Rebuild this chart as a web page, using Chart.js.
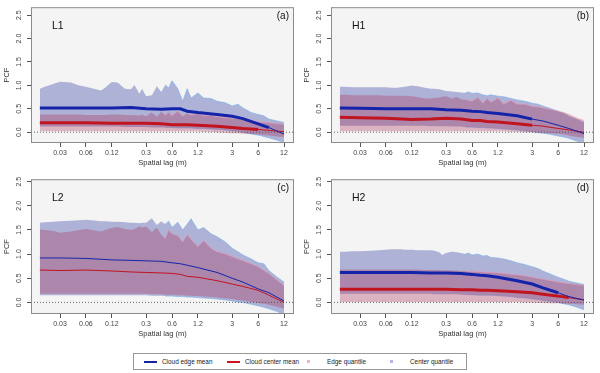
<!DOCTYPE html>
<html>
<head>
<meta charset="utf-8">
<script src="https://cdn.jsdelivr.net/npm/chart.js@4.4.0/dist/chart.umd.min.js"></script>
<style>
  body { margin:0; background:#fff; width:600px; height:373px; position:relative; overflow:hidden;
         font-family:"Liberation Sans", Arial, sans-serif; }
  .panel { position:absolute; }
  #legend { position:absolute; left:133px; top:353px; width:332px; height:15px; border:1px solid #999; background:#fff; }
  #legend span { position:absolute; font-size:6.4px; color:#222; top:4px; white-space:nowrap; }
  #legend i { position:absolute; display:block; }
</style>
</head>
<body>
<div class="panel" style="left:0;top:0"><canvas id="pa" width="300" height="170"></canvas></div>
<div class="panel" style="left:300px;top:0"><canvas id="pb" width="300" height="170"></canvas></div>
<div class="panel" style="left:0;top:172px"><canvas id="pc" width="300" height="169"></canvas></div>
<div class="panel" style="left:300px;top:172px"><canvas id="pd" width="300" height="169"></canvas></div>
<div id="legend">
  <i style="left:10px;top:6.5px;width:13px;height:2px;background:#1424aa"></i><span style="left:28px">Cloud edge mean</span>
  <i style="left:93px;top:6.5px;width:13px;height:2px;background:#d0141e"></i><span style="left:111px">Cloud center mean</span>
  <i style="left:173px;top:6px;width:3px;height:3px;background:#f0b4c0"></i><span style="left:193px">Edge quantile</span>
  <i style="left:256px;top:6px;width:3px;height:3px;background:#b4b6e6"></i><span style="left:276px">Center quantile</span>
</div>
<script>
const xTicks = [0.03, 0.06, 0.12, 0.3, 0.6, 1.2, 3, 6, 12];
const yTicks = [0, 0.5, 1, 1.5, 2, 2.5];

// lags used for quantile bands
const bandLags = [0.0175, 0.02, 0.025, 0.03, 0.04, 0.05, 0.06, 0.07, 0.08, 0.09, 0.1, 0.12, 0.14, 0.17, 0.2, 0.22,
  0.25, 0.27, 0.3, 0.35, 0.4, 0.45, 0.5, 0.55, 0.6, 0.7, 0.8, 0.9, 1.0, 1.2, 1.4, 1.7, 2, 2.5, 3, 3.5, 4, 5, 6, 7, 8, 10, 12];
// lags used for mean curves
const meanLags = [0.0175, 0.03, 0.06, 0.12, 0.2, 0.3, 0.45, 0.6, 0.75, 0.9, 1.2, 2, 3, 4, 6, 8, 12];

// L1
const edgeMeanL1 = [0.52, 0.52, 0.52, 0.52, 0.53, 0.5, 0.49, 0.5, 0.5, 0.45, 0.42, 0.38, 0.34, 0.29, 0.18, 0.1, -0.04];
const centerMeanL1 = [0.2, 0.2, 0.2, 0.19, 0.19, 0.19, 0.18, 0.16, 0.16, 0.16, 0.15, 0.13, 0.1, 0.08, 0.06, 0.04, 0.01];
const centerHiL1 = [0.93, 0.97, 1.03, 1.08, 1.06, 1.0, 0.97, 0.94, 0.91, 0.89, 0.95, 1.07, 1.06, 0.93, 0.92, 1.01, 0.82, 0.93,
  0.77, 0.79, 0.98, 0.86, 1.01, 0.95, 1.1, 0.93, 0.66, 0.93, 0.73, 0.84, 0.73, 0.72, 0.66, 0.63, 0.56, 0.6, 0.52, 0.42, 0.38,
  0.35, 0.28, 0.24, 0.21];
const centerLoL1 = [0.12, 0.12, 0.12, 0.12, 0.12, 0.12, 0.12, 0.12, 0.12, 0.12, 0.12, 0.12, 0.12, 0.11, 0.11, 0.11, 0.11, 0.11,
  0.11, 0.1, 0.1, 0.1, 0.1, 0.1, 0.1, 0.09, 0.09, 0.09, 0.09, 0.08, 0.08, 0.07, 0.06, 0.05, 0.03, 0.02, 0.0, -0.04, -0.06,
  -0.09, -0.12, -0.17, -0.22];
const edgeHiL1 = [0.38, 0.38, 0.38, 0.38, 0.38, 0.38, 0.37, 0.37, 0.37, 0.37, 0.37, 0.38, 0.38, 0.37, 0.36, 0.37, 0.35, 0.38,
  0.34, 0.42, 0.33, 0.44, 0.36, 0.43, 0.35, 0.45, 0.34, 0.41, 0.36, 0.4, 0.35, 0.36, 0.33, 0.31, 0.3, 0.29, 0.27, 0.25, 0.22,
  0.21, 0.2, 0.18, 0.17];
const edgeLoL1 = [0.02, 0.02, 0.02, 0.02, 0.02, 0.02, 0.02, 0.02, 0.02, 0.02, 0.02, 0.02, 0.02, 0.02, 0.02, 0.02, 0.02, 0.02,
  0.02, 0.02, 0.02, 0.02, 0.02, 0.02, 0.02, 0.02, 0.02, 0.02, 0.02, 0.02, 0.01, 0.01, 0.0, -0.01, -0.02, -0.02, -0.03, -0.04,
  -0.05, -0.06, -0.07, -0.09, -0.1];

// H1
const edgeMeanH1 = [0.52, 0.51, 0.5, 0.5, 0.5, 0.48, 0.47, 0.45, 0.44, 0.42, 0.4, 0.35, 0.28, 0.24, 0.15, 0.08, -0.03];
const centerMeanH1 = [0.32, 0.31, 0.3, 0.27, 0.28, 0.3, 0.28, 0.25, 0.25, 0.23, 0.22, 0.18, 0.15, 0.13, 0.08, 0.05, 0.0];
const centerHiH1 = [0.97, 0.97, 0.96, 0.96, 0.96, 0.96, 0.96, 0.95, 0.95, 0.96, 0.97, 1.0, 0.98, 0.95, 0.93, 0.93, 0.92, 0.9,
  0.88, 0.87, 0.86, 0.85, 0.84, 0.86, 0.83, 0.84, 0.8, 0.78, 0.8, 0.77, 0.76, 0.72, 0.69, 0.66, 0.62, 0.6, 0.56, 0.5, 0.45,
  0.4, 0.34, 0.27, 0.2];
const centerLoH1 = [0.14, 0.14, 0.14, 0.14, 0.14, 0.14, 0.14, 0.14, 0.14, 0.14, 0.14, 0.14, 0.14, 0.14, 0.13, 0.13, 0.13, 0.13,
  0.13, 0.12, 0.12, 0.12, 0.11, 0.11, 0.11, 0.1, 0.1, 0.09, 0.09, 0.08, 0.07, 0.06, 0.05, 0.03, 0.01, -0.01, -0.02, -0.05,
  -0.08, -0.1, -0.13, -0.19, -0.25];
const edgeHiH1 = [0.8, 0.8, 0.79, 0.79, 0.79, 0.79, 0.78, 0.78, 0.78, 0.78, 0.78, 0.77, 0.75, 0.72, 0.72, 0.73, 0.74, 0.76,
  0.77, 0.72, 0.75, 0.7, 0.7, 0.68, 0.66, 0.74, 0.62, 0.72, 0.64, 0.73, 0.6, 0.68, 0.6, 0.6, 0.55, 0.54, 0.52, 0.48, 0.45,
  0.42, 0.38, 0.3, 0.25];
const edgeLoH1 = [0.02, 0.02, 0.02, 0.02, 0.02, 0.02, 0.02, 0.02, 0.02, 0.02, 0.02, 0.02, 0.02, 0.02, 0.02, 0.02, 0.02, 0.02,
  0.02, 0.02, 0.02, 0.02, 0.02, 0.02, 0.02, 0.02, 0.02, 0.02, 0.02, 0.02, 0.02, 0.01, 0.01, 0.0, 0.0, -0.01, -0.01, -0.02,
  -0.03, -0.05, -0.07, -0.1, -0.12];

// L2
const edgeMeanL2 = [0.92, 0.92, 0.91, 0.88, 0.87, 0.86, 0.85, 0.82, 0.8, 0.77, 0.72, 0.62, 0.5, 0.42, 0.28, 0.2, 0.03];
const centerMeanL2 = [0.67, 0.66, 0.67, 0.65, 0.63, 0.62, 0.61, 0.6, 0.58, 0.54, 0.52, 0.45, 0.38, 0.33, 0.25, 0.15, 0.0];
const centerHiL2 = [1.65, 1.66, 1.67, 1.68, 1.69, 1.7, 1.71, 1.7, 1.69, 1.68, 1.68, 1.67, 1.67, 1.66, 1.65, 1.65, 1.64, 1.65,
  1.65, 1.74, 1.6, 1.68, 1.62, 1.68, 1.55, 1.66, 1.5, 1.62, 1.73, 1.5, 1.55, 1.42, 1.36, 1.25, 1.12, 1.05, 0.98, 0.9, 0.82,
  0.8, 0.66, 0.52, 0.42];
const centerLoL2 = [0.15, 0.15, 0.15, 0.15, 0.15, 0.15, 0.15, 0.15, 0.15, 0.15, 0.15, 0.15, 0.15, 0.15, 0.15, 0.15, 0.15, 0.15,
  0.15, 0.14, 0.14, 0.14, 0.13, 0.13, 0.13, 0.12, 0.12, 0.11, 0.11, 0.1, 0.09, 0.08, 0.07, 0.05, 0.03, 0.01, 0.0, -0.04,
  -0.07, -0.1, -0.13, -0.19, -0.25];
const edgeHiL2 = [1.51, 1.5, 1.48, 1.44, 1.47, 1.5, 1.52, 1.5, 1.48, 1.47, 1.5, 1.54, 1.56, 1.52, 1.5, 1.52, 1.57, 1.55, 1.57,
  1.45, 1.55, 1.4, 1.32, 1.5, 1.42, 1.38, 1.25, 1.4, 1.3, 1.15, 1.28, 1.12, 1.05, 1.0, 0.95, 0.9, 0.86, 0.8, 0.74, 0.66, 0.6,
  0.46, 0.35];
const edgeLoL2 = [0.18, 0.18, 0.18, 0.18, 0.18, 0.18, 0.18, 0.18, 0.18, 0.18, 0.18, 0.18, 0.18, 0.18, 0.18, 0.18, 0.18, 0.18,
  0.18, 0.17, 0.17, 0.17, 0.16, 0.16, 0.16, 0.15, 0.15, 0.14, 0.14, 0.13, 0.12, 0.11, 0.1, 0.08, 0.07, 0.05, 0.04, 0.01,
  -0.01, -0.03, -0.05, -0.09, -0.13];

// H2
const edgeMeanH2 = [0.62, 0.62, 0.62, 0.62, 0.61, 0.61, 0.6, 0.58, 0.56, 0.55, 0.52, 0.45, 0.38, 0.3, 0.2, 0.12, 0.05];
const centerMeanH2 = [0.27, 0.27, 0.27, 0.27, 0.27, 0.27, 0.26, 0.26, 0.25, 0.25, 0.24, 0.22, 0.2, 0.17, 0.13, 0.1, 0.05];
const centerHiH2 = [1.05, 1.05, 1.06, 1.06, 1.07, 1.08, 1.09, 1.1, 1.1, 1.1, 1.09, 1.09, 1.08, 1.08, 1.08, 1.07, 1.04, 0.98,
  1.02, 1.05, 1.04, 1.02, 1.0, 1.02, 0.98, 1.0, 0.96, 0.97, 0.93, 0.92, 0.9, 0.86, 0.82, 0.78, 0.74, 0.7, 0.65, 0.58, 0.52,
  0.48, 0.44, 0.4, 0.37];
const centerLoH2 = [0.18, 0.18, 0.18, 0.18, 0.18, 0.18, 0.18, 0.18, 0.18, 0.18, 0.18, 0.18, 0.18, 0.18, 0.18, 0.17, 0.17, 0.17,
  0.17, 0.17, 0.17, 0.16, 0.16, 0.16, 0.16, 0.15, 0.15, 0.15, 0.15, 0.14, 0.13, 0.12, 0.1, 0.09, 0.07, 0.06, 0.04, 0.02, 0.0,
  -0.03, -0.05, -0.1, -0.15];
const edgeHiH2 = [0.68, 0.68, 0.68, 0.68, 0.68, 0.68, 0.68, 0.68, 0.68, 0.68, 0.68, 0.68, 0.68, 0.67, 0.67, 0.67, 0.67, 0.66,
  0.67, 0.66, 0.66, 0.65, 0.65, 0.64, 0.64, 0.63, 0.63, 0.62, 0.62, 0.61, 0.6, 0.58, 0.57, 0.55, 0.52, 0.5, 0.48, 0.45, 0.42,
  0.4, 0.39, 0.37, 0.35];
const edgeLoH2 = [0.01, 0.01, 0.01, 0.01, 0.01, 0.01, 0.01, 0.01, 0.01, 0.01, 0.01, 0.01, 0.01, 0.01, 0.01, 0.01, 0.01, 0.01,
  0.01, 0.01, 0.01, 0.01, 0.01, 0.01, 0.01, 0.01, 0.01, 0.01, 0.01, 0.01, 0.01, 0.01, 0.01, 0.0, 0.0, -0.01, -0.01, -0.02,
  -0.02, -0.03, -0.03, -0.04, -0.05];

const BLUE = '#1424aa', RED = '#c0141f';
const LAVENDER = 'rgba(60,70,165,0.38)', PINK = 'rgba(170,45,85,0.32)';
const LAV_EDGE = 'rgba(110,175,235,0.8)', PINK_EDGE = 'rgba(245,150,175,0.75)';
const FONT = '"Liberation Sans", Arial, sans-serif';

function pts(xs, ys) { return xs.map((x, i) => ({x: x, y: ys[i]})) }

const decor = {
  id: 'decor',
  beforeDraw(chart) {
    const a = chart.chartArea, ctx = chart.ctx;
    ctx.save();
    ctx.fillStyle = '#f4f4f4';
    ctx.fillRect(a.left, a.top, a.right - a.left, a.bottom - a.top);
    ctx.restore();
  },
  afterDatasetDraw(chart, args) {
    if (args.index !== 3) return;
    // dotted zero reference line, above the bands and under the means
    const a = chart.chartArea, ctx = chart.ctx;
    const y0 = chart.scales.y.getPixelForValue(0);
    ctx.save();
    ctx.strokeStyle = '#444';
    ctx.lineWidth = 0.8;
    ctx.setLineDash([1, 2]);
    ctx.beginPath();
    ctx.moveTo(a.left, y0); ctx.lineTo(a.right, y0);
    ctx.stroke();
    ctx.restore();
  },
  afterDraw(chart) {
    const a = chart.chartArea, ctx = chart.ctx, o = chart.options.plugins.decor;
    ctx.save();
    ctx.strokeStyle = '#8c8c8c';
    ctx.lineWidth = 1;
    ctx.strokeRect(a.left + 0.5, a.top + 0.5, a.right - a.left - 1, a.bottom - a.top - 1);
    // rotated y tick labels (R style)
    ctx.fillStyle = '#444';
    ctx.font = '7px ' + FONT;
    ctx.textAlign = 'center';
    ctx.textBaseline = 'middle';
    yTicks.forEach(v => {
      const y = chart.scales.y.getPixelForValue(v);
      ctx.save();
      ctx.translate(a.left - 12, y);
      ctx.rotate(-Math.PI / 2);
      ctx.fillText(v.toFixed(1), 0, 0);
      ctx.restore();
    });
    ctx.fillStyle = '#111';
    ctx.font = '10.5px ' + FONT;
    ctx.textAlign = 'left';
    ctx.fillText(o.name, a.left + 21, a.top + 19);
    ctx.font = '10px ' + FONT;
    ctx.textAlign = 'right';
    ctx.fillText(o.tag, a.right - 5, a.top + 9.5);
    ctx.restore();
  }
};

function makePanel(id, name, tag, yMin, yMax, edgeMean, centerMean, centerHi, centerLo, edgeHi, edgeLo, thickBlue, thickRed) {
  const lw = lim => (ctx => (ctx.p1.parsed.x <= lim ? 3 : 1));
  const band = (data, color, fill, order) => ({
    data: pts(bandLags, data), borderWidth: 0, pointRadius: 0, backgroundColor: color,
    fill: fill, order: order, tension: 0
  });
  // noisy outer edge of the bands at larger lags
  const fringe = (data, color, order) => ({
    data: pts(bandLags, data).filter(p => p.x >= 0.5), borderWidth: 0.7, borderColor: color,
    pointRadius: 0, fill: false, order: order
  });
  new Chart(document.getElementById(id), {
    type: 'line',
    data: {
      datasets: [
        band(centerLo, LAVENDER, false, 5),
        band(centerHi, LAVENDER, 0, 5),
        band(edgeLo, PINK, false, 3),
        band(edgeHi, PINK, 2, 3),
        { data: pts(meanLags, centerMean), borderColor: RED, borderWidth: 1, pointRadius: 0, fill: false, order: 2,
          segment: { borderWidth: lw(thickRed) } },
        { data: pts(meanLags, edgeMean), borderColor: BLUE, borderWidth: 1, pointRadius: 0, fill: false, order: 1,
          segment: { borderWidth: lw(thickBlue) } },
        fringe(centerHi, LAV_EDGE, 4),
        fringe(centerLo, LAV_EDGE, 4),
        fringe(edgeHi, PINK_EDGE, 2.5)
      ]
    },
    options: {
      responsive: false,
      animation: false,
      layout: { padding: { top: 5, right: 6, left: 0, bottom: 0 } },
      plugins: { legend: { display: false }, tooltip: { enabled: false }, decor: { name: name, tag: tag } },
      scales: {
        x: {
          type: 'logarithmic', min: 0.01381, max: 15.68,
          afterBuildTicks: s => { s.ticks = xTicks.map(v => ({value: v})) },
          afterFit: s => { s.height = 27 },
          ticks: { callback: v => String(v), color: '#444', font: { size: 7, family: FONT }, padding: 2,
                   maxRotation: 0, autoSkip: false },
          grid: { drawOnChartArea: false, drawTicks: true, tickLength: 4, color: '#555' },
          border: { display: false },
          title: { display: true, text: 'Spatial lag (m)', color: '#333', font: { size: 7.5, family: FONT },
                   padding: { top: 2, bottom: 2.5 } }
        },
        y: {
          min: yMin, max: yMax,
          afterBuildTicks: s => { s.ticks = yTicks.map(v => ({value: v})) },
          afterFit: s => { s.width = 31 },
          ticks: { color: 'rgba(0,0,0,0)', font: { size: 7, family: FONT } },
          grid: { drawOnChartArea: false, drawTicks: true, tickLength: 4, color: '#555' },
          border: { display: false },
          title: { display: true, text: 'PCF', color: '#333', font: { size: 7.5, family: FONT },
                   padding: { top: 2.5, bottom: 2 } }
        }
      }
    },
    plugins: [decor]
  });
}

makePanel('pa', 'L1', '(a)', -0.23, 2.67, edgeMeanL1, centerMeanL1, centerHiL1, centerLoL1, edgeHiL1, edgeLoL1, 8, 6);
makePanel('pb', 'H1', '(b)', -0.23, 2.67, edgeMeanH1, centerMeanH1, centerHiH1, centerLoH1, edgeHiH1, edgeLoH1, 3.6, 3.6);
makePanel('pc', 'L2', '(c)', -0.24, 2.55, edgeMeanL2, centerMeanL2, centerHiL2, centerLoL2, edgeHiL2, edgeLoL2, 0, 0);
makePanel('pd', 'H2', '(d)', -0.24, 2.55, edgeMeanH2, centerMeanH2, centerHiH2, centerLoH2, edgeHiH2, edgeLoH2, 7, 8);
</script>
</body>
</html>
